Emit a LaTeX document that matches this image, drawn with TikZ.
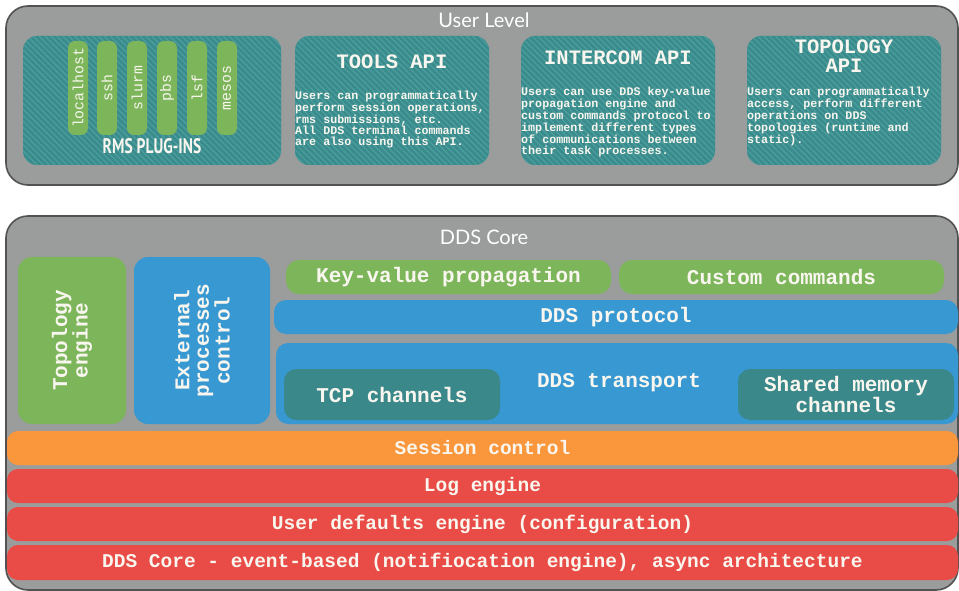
\documentclass[tikz,border=0pt]{standalone}
\usepackage{fontspec}
\setmainfont{Lato}
\setmonofont{Liberation Mono}
\newfontfamily\plugfont{PT Sans}
\usetikzlibrary{patterns.meta}
\definecolor{bggrey}{HTML}{9A9D9C}
\definecolor{bordergrey}{HTML}{525252}
\definecolor{tealbase}{HTML}{3A8B8C}
\definecolor{tealstripe}{HTML}{4C9D9E}
\definecolor{tealdark}{HTML}{3B888B}
\definecolor{ggreen}{HTML}{7DB55B}
\definecolor{bblue}{HTML}{3898D2}
\definecolor{oorange}{HTML}{FA973D}
\definecolor{rred}{HTML}{E94B46}
\definecolor{txt}{HTML}{F8F6EE}
\begin{document}
\begin{tikzpicture}[x=1pt,y=-1pt,
  layer/.style={draw=bordergrey, line width=1.6pt, fill=bggrey, rounded corners=22pt},
  hatchbox/.style={rounded corners=14pt, inner sep=0pt, preaction={fill=tealbase},
    pattern={Lines[angle=-45,distance=4.2pt,line width=1.3pt]}, pattern color=tealstripe},
  sz/.style 2 args={minimum width=#1 pt, minimum height=#2 pt, inner sep=0pt},
  pill/.style={fill=ggreen, rounded corners=7pt, sz={20}{94}},
  plug/.style={text=txt, font=\ttfamily\fontsize{14.8}{15}\selectfont, rotate=90},
  title/.style={text=txt, font=\ttfamily\bfseries\fontsize{20.5}{18.5}\selectfont, align=center},
  body/.style={text=txt, font=\ttfamily\bfseries\fontsize{11.7}{10.9}\selectfont, align=left, anchor=north west, inner sep=0pt},
  big/.style={text=txt, font=\ttfamily\bfseries\fontsize{21}{19.5}\selectfont, align=center},
  row/.style={text=txt, font=\ttfamily\bfseries\fontsize{19.5}{19.5}\selectfont, align=center},
  lvl/.style={text=white, font=\fontsize{20}{20}\selectfont}
]
\useasboundingbox (0,0) rectangle (959,591);

% ---------------- User level ----------------
\node[layer, sz={952}{179}] (user) at (482,95.5) {};
\node[lvl] (userlbl) at (484,20) {User Level};

\node[hatchbox, sz={258}{129}] (rms) at (152,100.5) {};
\node[pill] (p1) at (78,88) {};
\node[pill] (p2) at (107,88) {};
\node[pill] (p3) at (137,88) {};
\node[pill] (p4) at (167,88) {};
\node[pill] (p5) at (197,88) {};
\node[pill] (p6) at (227,88) {};
\node[plug] (t1) at (p1) {localhost};
\node[plug] (t2) at (p2) {ssh};
\node[plug] (t3) at (p3) {slurm};
\node[plug] (t4) at (p4) {pbs};
\node[plug] (t5) at (p5) {lsf};
\node[plug] (t6) at (p6) {mesos};
\node[text=txt, font=\plugfont\bfseries\fontsize{21}{21}\selectfont] (rmslbl) at (152,146)
  {\scalebox{0.74}[1]{RMS PLUG-INS}};

\node[hatchbox, sz={194}{129}] (tools) at (392,100.5) {};
\node[title] (toolst) at (392,62) {TOOLS API};
\node[body] (toolsb) at (295,91) {Users can programmatically\\perform session operations,\\rms submissions, etc.\\All DDS terminal commands\\are also using this API.};

\node[hatchbox, sz={194}{129}] (inter) at (618,100.5) {};
\node[title] (intert) at (618,58) {INTERCOM API};
\node[body] (interb) at (521,86.5) {Users can use DDS key-value\\propagation engine and\\custom commands protocol to\\implement different types\\of communications between\\their task processes.};

\node[hatchbox, sz={194}{129}] (topo) at (844,100.5) {};
\node[title] (topot) at (844,56) {TOPOLOGY\\API};
\node[body] (topob) at (747,86.5) {Users can programmatically\\access, perform different\\operations on DDS\\topologies (runtime and\\static).};

% ---------------- DDS Core ----------------
\node[layer, sz={952}{374}] (core) at (482,403) {};
\node[lvl] (corelbl) at (484,237) {DDS Core};

\node[fill=ggreen, rounded corners=14pt, sz={108}{167}] (topeng) at (72,340.5) {};
\node[big, rotate=90] (topengt) at (topeng) {Topology\\engine};
\node[fill=bblue, rounded corners=14pt, sz={136}{167}] (ext) at (202,340.5) {};
\node[big, rotate=90] (extt) at (ext) {External\\processes\\control};

\node[fill=ggreen, rounded corners=13pt, sz={325}{34}, big] (kv) at (448.5,277) {Key-value propagation};
\node[fill=ggreen, rounded corners=13pt, sz={325}{34}, big] (cc) at (781.5,277) {Custom commands};
\node[fill=bblue, rounded corners=12pt, sz={684}{34}, big] (proto) at (616,317) {DDS protocol};
\node[fill=bblue, rounded corners=12pt, sz={682}{81}] (trans) at (617,383.5) {};
\node[big] (transt) at (619,383) {DDS transport};
\node[fill=tealdark, rounded corners=12pt, sz={216}{51}, big] (tcp) at (392,394.5) {TCP channels};
\node[fill=tealdark, rounded corners=12pt, sz={216}{51}, big] (shm) at (846,394.5) {Shared memory\\channels};

\node[fill=oorange, rounded corners=11pt, sz={951}{34}, row] (sess) at (482.5,448) {Session control};
\node[fill=rred, rounded corners=11pt, sz={951}{34}, row] (log) at (482.5,486) {Log engine};
\node[fill=rred, rounded corners=11pt, sz={951}{34}, row] (udef) at (482.5,524) {User defaults engine (configuration)};
\node[fill=rred, rounded corners=11pt, sz={951}{35}, row] (ev) at (482.5,562.5) {DDS Core - event-based (notifiocation engine), async architecture};
\end{tikzpicture}
\end{document}
